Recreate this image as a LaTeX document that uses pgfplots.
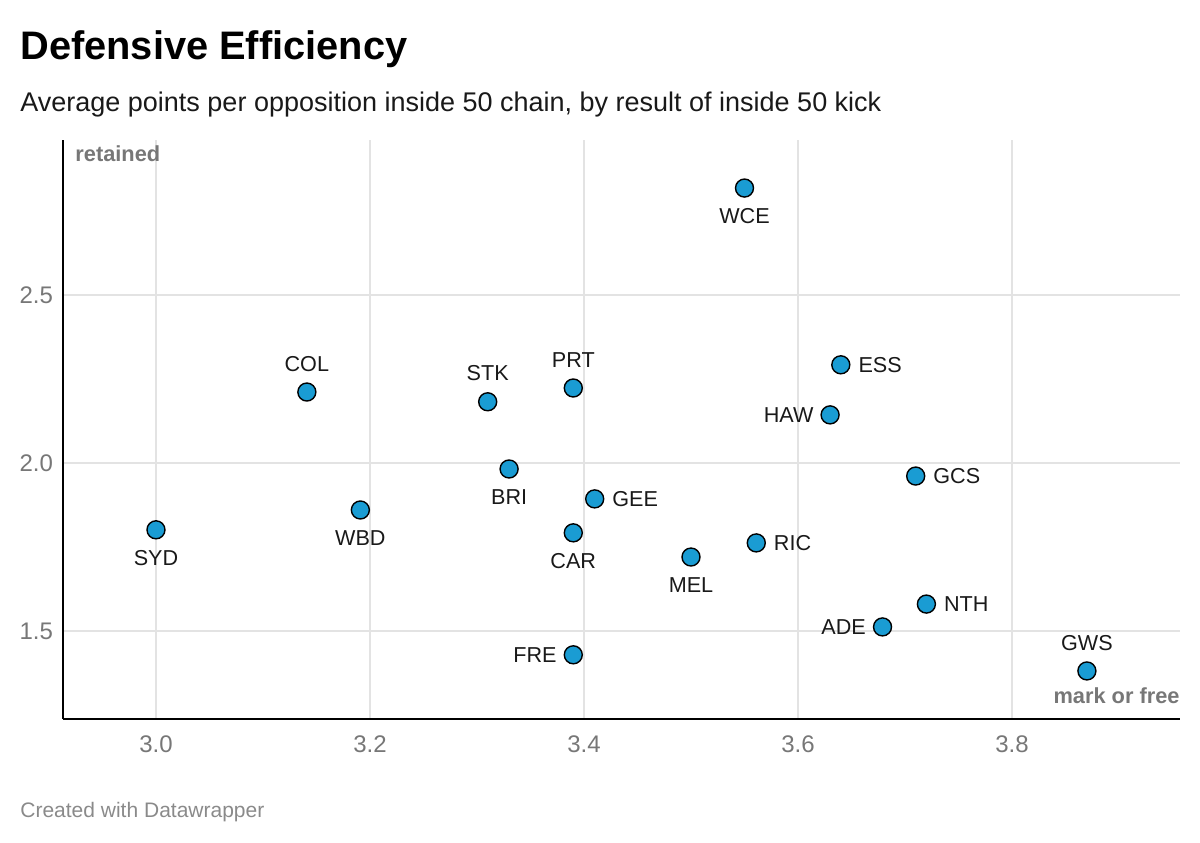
\documentclass[border=0pt]{standalone}
\usepackage{pgfplots}
\pgfplotsset{compat=1.18}
\usepackage{fontspec}
\setmainfont{Liberation Sans}
\definecolor{dot}{HTML}{1A9CD3}
\definecolor{tickgray}{HTML}{777777}
\definecolor{gridgray}{HTML}{E3E3E3}
\definecolor{foot}{HTML}{8A8A8A}
\begin{document}
\begin{tikzpicture}
\useasboundingbox (0,0) rectangle (600pt,421pt);
\begin{axis}[
  at={(31.5pt,61.5pt)}, anchor=south west,
  scale only axis, width=558.5pt, height=289.5pt,
  xmin=2.9131, xmax=3.957, ymin=1.238, ymax=2.961,
  axis x line*=bottom, axis y line*=left,
  axis line style={line width=1pt, black, -},
  xtick={3.0,3.2,3.4,3.6,3.8}, ytick={1.5,2.0,2.5},
  xticklabels={3.0,3.2,3.4,3.6,3.8}, yticklabels={1.5,2.0,2.5},
  major tick length=0pt,
  grid=major, major grid style={gridgray, line width=0.6pt},
  ticklabel style={font=\fontsize{12}{14}\selectfont, text=tickgray},
  xticklabel style={yshift=-5pt},
  yticklabel style={xshift=-1.5pt},
  /pgf/number format/assume math mode=true,
  clip=false,
  mark options={draw=black, fill=dot, line width=0.7pt},
  point meta=explicit symbolic,
  nodes near coords,
  every node near coord/.append style={font=\fontsize{10.8}{12}\selectfont, text=black!90, inner sep=0pt},
]
% labels below
\addplot[only marks, mark=*, mark size=4.5pt,
  nodes near coords align={anchor=north, yshift=-10pt}]
  table[meta=label] {
x y label
3.550 2.818 WCE
3.330 1.982 BRI
3.191 1.860 WBD
3.000 1.801 SYD
3.390 1.792 CAR
3.500 1.720 MEL
};
% labels above
\addplot[only marks, mark=*, mark size=4.5pt,
  nodes near coords align={anchor=south, yshift=10pt}]
  table[meta=label] {
x y label
3.141 2.211 COL
3.310 2.182 STK
3.390 2.223 PRT
3.870 1.381 GWS
};
% labels right
\addplot[only marks, mark=*, mark size=4.5pt,
  nodes near coords align={anchor=west, xshift=8.5pt}]
  table[meta=label] {
x y label
3.640 2.292 ESS
3.710 1.961 GCS
3.410 1.893 GEE
3.561 1.762 RIC
3.720 1.580 NTH
};
% labels left
\addplot[only marks, mark=*, mark size=4.5pt,
  nodes near coords align={anchor=east, xshift=-8pt}]
  table[meta=label] {
x y label
3.630 2.143 HAW
3.679 1.512 ADE
3.390 1.429 FRE
};
\node[anchor=north west, inner sep=0pt, font=\bfseries\fontsize{10.9}{12}\selectfont, text=tickgray]
  at ([xshift=6pt,yshift=-2.5pt]rel axis cs:0,1) {retained};
\node[anchor=base east, inner sep=0pt, font=\bfseries\fontsize{10.9}{12}\selectfont, text=tickgray]
  at ([yshift=8pt]rel axis cs:1,0) {mark or free};
\end{axis}
\node[anchor=base west, inner sep=0pt, font=\bfseries\fontsize{19.9}{24}\selectfont] at (10pt,391pt) {Defensive Efficiency};
\node[anchor=base west, inner sep=0pt, font=\fontsize{13.5}{16}\selectfont, text=black!90] at (10pt,365pt) {Average points per opposition inside 50 chain, by result of inside 50 kick};
\node[anchor=base west, inner sep=0pt, font=\fontsize{10.5}{12}\selectfont, text=foot] at (10pt,12.5pt) {Created with Datawrapper};
\end{tikzpicture}
\end{document}
